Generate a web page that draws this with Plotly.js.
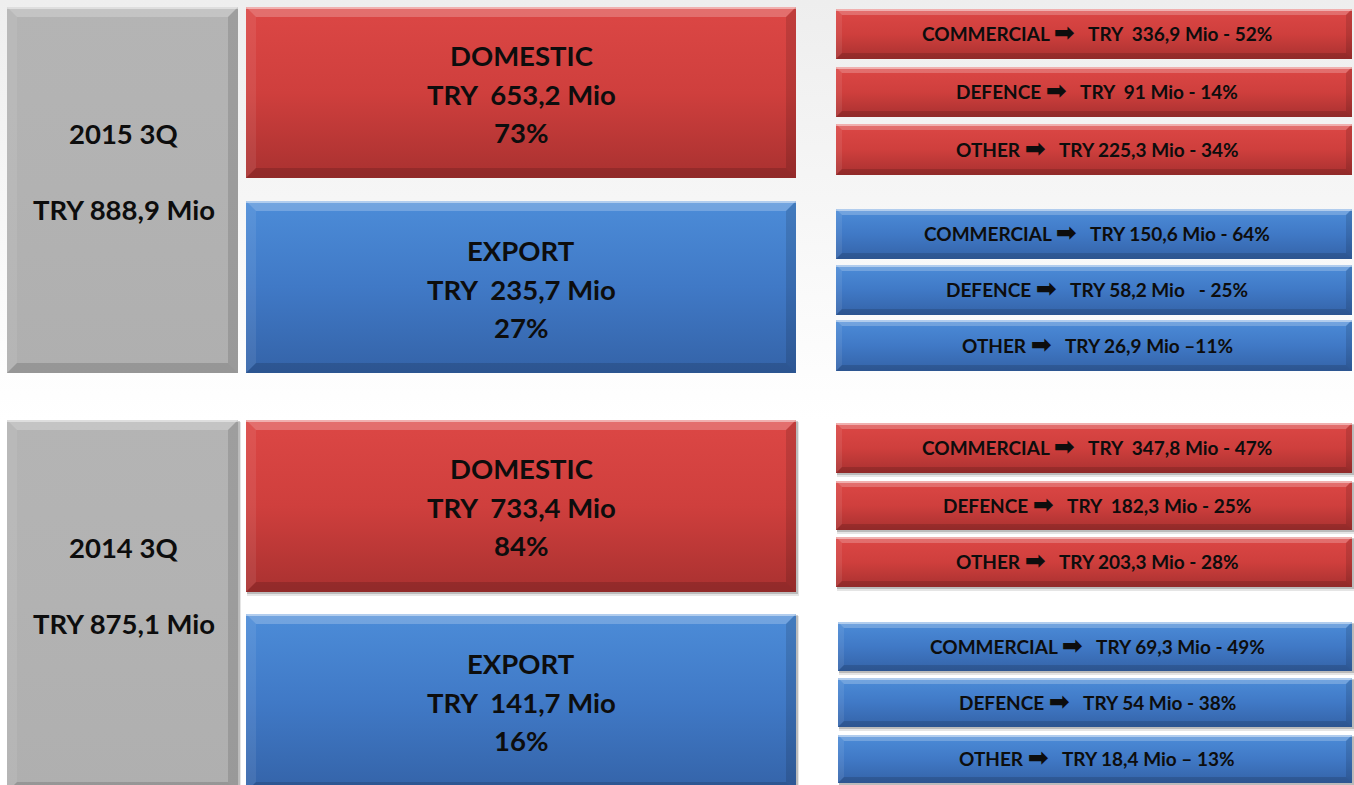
<!DOCTYPE html>
<html><head><meta charset="utf-8">
<script src="https://cdn.plot.ly/plotly-3.0.1.min.js"></script>
<style>html,body{margin:0;padding:0;background:#fff;overflow:hidden}#chart{width:1354px;height:785px}</style>
</head><body><div id="chart"></div><script>
// ---------- data ----------
const periods = ["2015 3Q", "2014 3Q"];
const totals = ["888,9", "875,1"];
const markets = ["DOMESTIC", "EXPORT"];
const marketValues = [["653,2", "235,7"], ["733,4", "141,7"]];
const marketShares = [[73, 27], [84, 16]];
const segments = ["COMMERCIAL", "DEFENCE", "OTHER"];
const seg2015Domestic = ["336,9", "91", "225,3"];
const share2015Domestic = [52, 14, 34];
const seg2015Export = ["150,6", "58,2", "26,9"];
const share2015Export = [64, 25, 11];
const seg2014Domestic = ["347,8", "182,3", "203,3"];
const share2014Domestic = [47, 25, 28];
const seg2014Export = ["69,3", "54", "18,4"];
const share2014Export = [49, 38, 13];

const segValues = [[seg2015Domestic, seg2015Export], [seg2014Domestic, seg2014Export]];
const segShares = [[share2015Domestic, share2015Export], [share2014Domestic, share2014Export]];

// ---------- presentation (layout / styles) ----------
const NB = "\u00a0";
const valuePad = [[[NB, NB, ""], ["", "", ""]], [[NB, NB, ""], ["", "", ""]]];
const shareSep = [[[" - ", " - ", " - "], [" - ", NB + NB + " - ", " \u2013"]],
                  [[" - ", " - ", " - "], [" - ", " - ", " \u2013 "]]];
const periodBoxes = [[7, 238, 7, 373], [7, 238, 420, 792]];
const marketBoxes = [[[246, 796, 7, 178], [246, 796, 201, 373]],
                     [[246, 796, 420, 592], [246, 796, 614, 792]]];
const segBoxY = [[[[9, 59], [67, 117], [124, 175]], [[209, 259], [265, 315], [320, 371]]],
                 [[[423, 473], [481, 530], [537, 587]], [[622, 671], [678, 727], [735, 783]]]];
const segBoxX = [[[836, 1352], [836, 1352]], [[836, 1352], [838, 1352]]];
const palette = {
  red: ["#dc4745", "#cf3f3d", "#a93130"],
  blue: ["#4c8cd8", "#4079c6", "#3463a8"],
  gray: ["#b4b4b4", "#b2b2b2", "#afafaf"]
};
const FONT = "Lato, 'Open Sans', 'DejaVu Sans', sans-serif";
const ARROW = "<span style=\"font-family:'DejaVu Sans';font-size:25px;font-weight:bold\">\u27a1</span>";

const traces = [];
const shapes = [];
const annotations = [];

function box(x0, x1, y0, y1, cols, bevel) {
  shapes.push({type: "rect", layer: "below", xref: "x", yref: "y", x0: x0 + 1, x1: x1 + 3, y0: y0 + 2, y1: y1 + 4,
               fillcolor: "rgba(0,0,0,0.10)", line: {width: 0}});
  shapes.push({type: "rect", layer: "below", xref: "x", yref: "y", x0: x0 + 1, x1: x1 + 2, y0: y0 + 1, y1: y1 + 2,
               fillcolor: "rgba(0,0,0,0.18)", line: {width: 0}});
  traces.push({
    type: "scatter", mode: "lines", hoverinfo: "skip", showlegend: false,
    x: [x0, x1, x1, x0, x0], y: [y0, y0, y1, y1, y0],
    fill: "toself", line: {width: 0, color: "rgba(0,0,0,0)"},
    fillcolor: cols[1],
    fillgradient: {type: "vertical", colorscale: [[0, cols[0]], [0.5, cols[1]], [1, cols[2]]], start: y0, stop: y1}
  });
  const b = bevel;
  shapes.push({type: "path", layer: "above", xref: "x", yref: "y",
    path: `M${x0},${y0} L${x1},${y0} L${x1 - b},${y0 + b} L${x0 + b},${y0 + b} Z`,
    fillcolor: "rgba(255,255,255,0.22)", line: {width: 0}});
  shapes.push({type: "path", layer: "above", xref: "x", yref: "y",
    path: `M${x0},${y0} L${x0 + b},${y0 + b} L${x0 + b},${y1 - b} L${x0},${y1} Z`,
    fillcolor: "rgba(255,255,255,0.08)", line: {width: 0}});
  shapes.push({type: "path", layer: "above", xref: "x", yref: "y",
    path: `M${x1},${y0} L${x1},${y1} L${x1 - b},${y1 - b} L${x1 - b},${y0 + b} Z`,
    fillcolor: "rgba(0,0,0,0.12)", line: {width: 0}});
  shapes.push({type: "path", layer: "above", xref: "x", yref: "y",
    path: `M${x0},${y1} L${x1},${y1} L${x1 - b},${y1 - b} L${x0 + b},${y1 - b} Z`,
    fillcolor: "rgba(0,0,0,0.14)", line: {width: 0}});
  shapes.push({type: "line", layer: "above", xref: "x", yref: "y", x0: x0, x1: x1, y0: y0 + 1, y1: y0 + 1,
    line: {color: "rgba(255,255,255,0.45)", width: 2}});
}

function label(x, y, text, size) {
  annotations.push({xref: "x", yref: "y", x: x, y: y, text: text, showarrow: false,
    xanchor: "center", yanchor: "middle",
    font: {family: FONT, size: size, color: "#0d0d0d", weight: 700}});
}

traces.push({type: "scatter", mode: "lines", hoverinfo: "skip", showlegend: false,
  x: [0, 1354, 1354, 0, 0], y: [0, 0, 420, 420, 0], fill: "toself", line: {width: 0},
  fillcolor: "#f4f4f4",
  fillgradient: {type: "vertical", colorscale: [[0, "#eeeeee"], [1, "#ffffff"]], start: 0, stop: 420}});

periods.forEach((p, pi) => {
  const [gx0, gx1, gy0, gy1] = periodBoxes[pi];
  box(gx0, gx1, gy0, gy1, palette.gray, 10);
  const gc = pi === 0 ? 171 : 585;
  label((gx0 + gx1) / 2 + 1, gc - 38, p, 27.5);
  label((gx0 + gx1) / 2 + 1, gc + 38, "TRY " + totals[pi] + " Mio", 27.5);

  markets.forEach((m, mi) => {
    const [mx0, mx1, my0, my1] = marketBoxes[pi][mi];
    const cols = mi === 0 ? palette.red : palette.blue;
    box(mx0, mx1, my0, my1, cols, 10);
    const cx = (mx0 + mx1) / 2;
    const cy = mi === 0 ? my0 + 86 : my0 + 87;
    label(cx, cy - 38, m, 27.5);
    label(cx, cy + 1, "TRY " + NB + marketValues[pi][mi] + " Mio", 27.5);
    label(cx, cy + 39, marketShares[pi][mi] + "%", 27.5);

    segments.forEach((s, si) => {
      const [sx0, sx1] = segBoxX[pi][mi];
      const [sy0, sy1] = segBoxY[pi][mi][si];
      box(sx0, sx1, sy0, sy1, cols, 6);
      const txt = s + NB + ARROW + NB + NB + NB + "TRY " + valuePad[pi][mi][si] + segValues[pi][mi][si] +
                  " Mio" + shareSep[pi][mi][si] + segShares[pi][mi][si] + "%";
      label((836 + 1352) / 2 + 3, (sy0 + sy1) / 2 - 1.5, txt, 19);
    });
  });
});

const layout = {
  width: 1354, height: 785,
  margin: {l: 0, r: 0, t: 0, b: 0, pad: 0},
  paper_bgcolor: "#ffffff", plot_bgcolor: "rgba(0,0,0,0)",
  xaxis: {range: [0, 1354], visible: false, fixedrange: true},
  yaxis: {range: [785, 0], visible: false, fixedrange: true},
  showlegend: false,
  shapes: shapes, annotations: annotations
};
Plotly.newPlot("chart", traces, layout, {displayModeBar: false, staticPlot: true});
</script></body></html>
